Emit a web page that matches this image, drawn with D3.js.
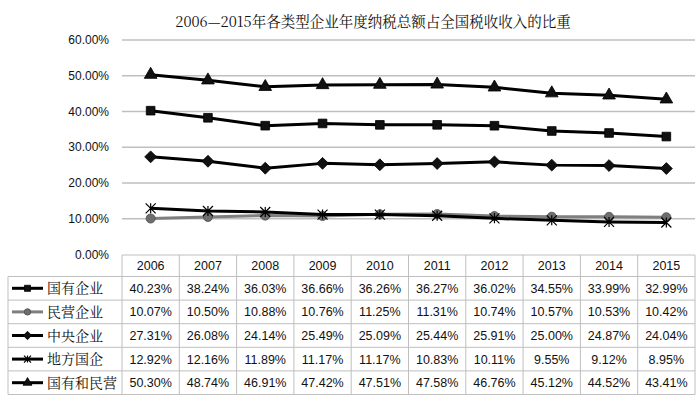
<!DOCTYPE html>
<html>
<head>
<meta charset="utf-8">
<script src="https://cdn.jsdelivr.net/npm/d3@7"></script>
<style>
  body { margin: 0; background: #fff; }
  svg { display: block; }
</style>
</head>
<body>
<div id="chart"></div>
<script>
const title = "2006\u20142015年各类型企业年度纳税总额占全国税收收入的比重";
const years = ["2006", "2007", "2008", "2009", "2010", "2011", "2012", "2013", "2014", "2015"];
const seriesNames = ["国有企业", "民营企业", "中央企业", "地方国企", "国有和民营"];
const guoyou = [40.23, 38.24, 36.03, 36.66, 36.26, 36.27, 36.02, 34.55, 33.99, 32.99];
const minying = [10.07, 10.50, 10.88, 10.76, 11.25, 11.31, 10.74, 10.57, 10.53, 10.42];
const zhongyang = [27.31, 26.08, 24.14, 25.49, 25.09, 25.44, 25.91, 25.00, 24.87, 24.04];
const difang = [12.92, 12.16, 11.89, 11.17, 11.17, 10.83, 10.11, 9.55, 9.12, 8.95];
const heji = [50.30, 48.74, 46.91, 47.42, 47.51, 47.58, 46.76, 45.12, 44.52, 43.41];
const yTicks = [0, 10, 20, 30, 40, 50, 60];

const series = [
  {name: seriesNames[0], values: guoyou, color: "#000", symbol: d3.symbolSquare, size: 75},
  {name: seriesNames[1], values: minying, color: "#7f7f7f", symbol: d3.symbolCircle, size: 65},
  {name: seriesNames[2], values: zhongyang, color: "#000", symbol: d3.symbolDiamond2, size: 90},
  {name: seriesNames[3], values: difang, color: "#000", symbol: "star", size: 0},
  {name: seriesNames[4], values: heji, color: "#000", symbol: d3.symbolTriangle, size: 70}
];

const W = 700, H = 397;
const plotLeft = 122, plotRight = 695, plotTop = 40, plotBottom = 254.5;

const svg = d3.select("#chart").append("svg")
    .attr("width", W).attr("height", H);

svg.append("text")
    .attr("x", 373).attr("y", 27)
    .attr("text-anchor", "middle")
    .style("font-family", "'Noto Serif CJK SC', 'Noto Sans CJK SC', serif")
    .style("font-size", "14.5px")
    .style("fill", "#111")
    .text(title);

const x = d3.scaleBand().domain(years).range([plotLeft, plotRight]);
const y = d3.scaleLinear().domain([0, 60]).range([plotBottom, plotTop]);

// gridlines
svg.append("g").selectAll("line")
    .data(yTicks.filter(t => t > 0))
    .join("line")
    .attr("x1", plotLeft).attr("x2", plotRight)
    .attr("y1", d => y(d)).attr("y2", d => y(d))
    .attr("stroke", "#bfbfbf").attr("stroke-width", 1.5);

// y labels
svg.append("g").selectAll("text")
    .data(yTicks)
    .join("text")
    .attr("x", 109).attr("y", d => y(d) + 4)
    .attr("text-anchor", "end")
    .style("font-family", "'Liberation Sans', Arial, sans-serif")
    .style("font-size", "12px")
    .style("fill", "#111")
    .text(d => d.toFixed(2) + "%");

function drawMarker(g, s, cx, cy, scale) {
  if (s.symbol === "star") {
    const r = 5 * scale;
    const p = d3.path();
    p.moveTo(cx - r, cy - r); p.lineTo(cx + r, cy + r);
    p.moveTo(cx + r, cy - r); p.lineTo(cx - r, cy + r);
    p.moveTo(cx, cy - r); p.lineTo(cx, cy + r);
    g.append("path").attr("d", p.toString())
        .attr("stroke", "#000").attr("stroke-width", 1.2).attr("fill", "none");
  } else {
    g.append("path")
        .attr("d", d3.symbol().type(s.symbol).size(s.size * scale * scale)())
        .attr("transform", `translate(${cx},${cy})`)
        .attr("fill", s.color === "#000" ? "#111" : "#6e6e6e")
        .attr("stroke", s.color === "#000" ? "#000" : "#4d4d4d").attr("stroke-width", 0.8);
  }
}

const line = d3.line()
    .x((d, i) => x(years[i]) + x.bandwidth() / 2)
    .y(d => y(d));

const drawOrder = [1, 3, 2, 0, 4];
drawOrder.forEach(k => {
  const s = series[k];
  const g = svg.append("g");
  g.append("path")
      .attr("d", line(s.values))
      .attr("fill", "none")
      .attr("stroke", s.color)
      .attr("stroke-width", 3)
      .attr("stroke-linejoin", "round");
  s.values.forEach((v, i) => drawMarker(g, s, x(years[i]) + x.bandwidth() / 2, y(v), 1));
});

// data table
const headTop = 255, headH = 21.5, rowH = 23.6, legLeft = 8;
const table = svg.append("g");
const gridColor = "#bfbfbf";
const tableBottom = headTop + headH + rowH * series.length;

// horizontal lines
table.append("line").attr("x1", plotLeft).attr("x2", plotRight)
    .attr("y1", headTop).attr("y2", headTop).attr("stroke", gridColor);
d3.range(series.length + 1).forEach(r => {
  const yy = headTop + headH + r * rowH;
  table.append("line").attr("x1", legLeft).attr("x2", plotRight)
      .attr("y1", yy).attr("y2", yy).attr("stroke", gridColor);
});
// vertical lines
table.append("line").attr("x1", legLeft).attr("x2", legLeft)
    .attr("y1", headTop + headH).attr("y2", tableBottom).attr("stroke", gridColor);
years.forEach(yr => {
  table.append("line").attr("x1", x(yr)).attr("x2", x(yr))
      .attr("y1", headTop).attr("y2", tableBottom).attr("stroke", gridColor);
});
table.append("line").attr("x1", plotRight).attr("x2", plotRight)
    .attr("y1", headTop).attr("y2", tableBottom).attr("stroke", gridColor);

const cellFont = "'Liberation Sans', Arial, sans-serif";
table.selectAll("text.yr")
    .data(years)
    .join("text")
    .attr("x", d => x(d) + x.bandwidth() / 2)
    .attr("y", headTop + headH / 2 + 4.5)
    .attr("text-anchor", "middle")
    .style("font-family", cellFont).style("font-size", "12.5px").style("fill", "#111")
    .text(d => d);

series.forEach((s, r) => {
  const cy = headTop + headH + r * rowH + rowH / 2;
  s.values.forEach((v, i) => {
    table.append("text")
        .attr("x", x(years[i]) + x.bandwidth() / 2)
        .attr("y", cy + 4.5)
        .attr("text-anchor", "middle")
        .style("font-family", cellFont).style("font-size", "12.5px").style("fill", "#111")
        .text(v.toFixed(2) + "%");
  });
  const lg = table.append("g");
  lg.append("line").attr("x1", 12).attr("x2", 43).attr("y1", cy).attr("y2", cy)
      .attr("stroke", s.color).attr("stroke-width", 3);
  drawMarker(lg, s, 27.5, cy, 0.7);
  lg.append("text")
      .attr("x", 47).attr("y", cy + 5)
      .style("font-family", "'Noto Serif CJK SC', 'Noto Sans CJK SC', serif")
      .style("font-size", "14px").style("fill", "#111")
      .text(s.name);
});
</script>
</body>
</html>
